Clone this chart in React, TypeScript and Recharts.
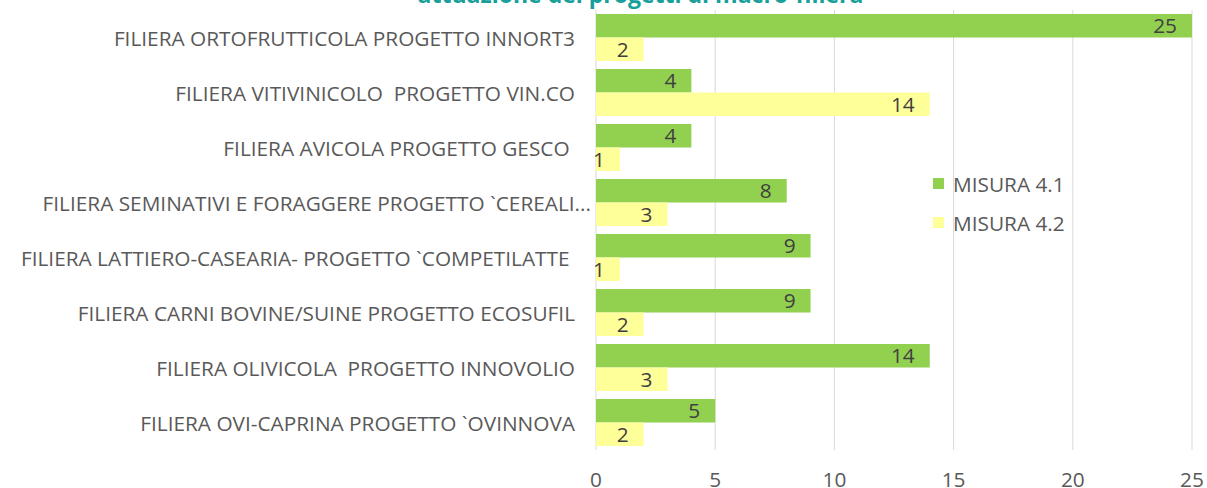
import React from 'react';
import { BarChart, Bar, XAxis, YAxis, CartesianGrid, Legend, LabelList } from 'recharts';

const TITLE = 'attuazione dei progetti di macro-filiera';
const categories = [
  'FILIERA ORTOFRUTTICOLA PROGETTO INNORT3',
  'FILIERA VITIVINICOLO  PROGETTO VIN.CO',
  'FILIERA AVICOLA PROGETTO GESCO ',
  'FILIERA SEMINATIVI E FORAGGERE PROGETTO `CEREALI...',
  'FILIERA LATTIERO-CASEARIA- PROGETTO `COMPETILATTE ',
  'FILIERA CARNI BOVINE/SUINE PROGETTO ECOSUFIL',
  'FILIERA OLIVICOLA  PROGETTO INNOVOLIO',
  'FILIERA OVI-CAPRINA PROGETTO `OVINNOVA',
];
const misura41 = [25, 4, 4, 8, 9, 9, 14, 5];
const misura42 = [2, 14, 1, 3, 1, 2, 3, 2];
const seriesNames = ['MISURA 4.1', 'MISURA 4.2'];
const xTicks = [0, 5, 10, 15, 20, 25];

const GREEN = '#92D050';
const YELLOW = '#FFFF99';
const TEXT = '#595959';
const FONT = '"Open Sans", sans-serif';

const data = categories.map((name, i) => ({ name, m41: misura41[i], m42: misura42[i] }));

const CategoryTick = (props: any) => {
  const { x, y, payload } = props;
  const label: string = payload.value;
  const extra = label.endsWith('...') ? 16 : 0;
  return (
    <text
      x={x - 13 + extra}
      y={y}
      textAnchor="end"
      dominantBaseline="central"
      fill={TEXT}
      fontSize={20.8}
      fontFamily={FONT}
      xmlSpace="preserve"
      style={{ whiteSpace: 'pre' }}
    >
      {label}
    </text>
  );
};

const LegendContent = () => (
  <div style={{ fontFamily: FONT, fontSize: 20.8, color: TEXT }}>
    {[GREEN, YELLOW].map((c, i) => (
      <div key={i} style={{ display: 'flex', alignItems: 'center', height: 39 }}>
        <div style={{ width: 11, height: 11, background: c, marginRight: 9 }} />
        <span style={{ whiteSpace: 'nowrap' }}>{seriesNames[i]}</span>
      </div>
    ))}
  </div>
);

export default function App() {
  return (
    <div style={{ position: 'absolute', left: 0, top: 0, width: 1207, height: 488, background: '#fff', overflow: 'hidden' }}>
      <BarChart
        width={1207}
        height={488}
        data={data}
        layout="vertical"
        margin={{ top: 10, right: 15, bottom: 8, left: 0 }}
        barGap={0}
      >
        <CartesianGrid horizontal={false} stroke="#D9D9D9" strokeWidth={1} />
        <XAxis
          type="number"
          domain={[0, 25]}
          ticks={xTicks}
          height={30}
          axisLine={false}
          tickLine={false}
          tickMargin={16}
          tick={{ fill: TEXT, fontSize: 20.8, fontFamily: FONT }}
          interval={0}
        />
        <YAxis
          type="category"
          dataKey="name"
          width={596}
          axisLine={false}
          tickLine={false}
          tick={<CategoryTick />}
          interval={0}
        />
        <Legend
          layout="horizontal"
          verticalAlign="middle"
          align="center"
          content={<LegendContent />}
          wrapperStyle={{ position: 'absolute', left: 933, top: 164, width: 200 }}
        />
        <Bar dataKey="m41" name={seriesNames[0]} fill={GREEN} barSize={23.5} isAnimationActive={false}>
          <LabelList dataKey="m41" position="insideRight" offset={15} fill="#404040" fontSize={20.8} fontFamily={FONT} />
        </Bar>
        <Bar dataKey="m42" name={seriesNames[1]} fill={YELLOW} barSize={23.5} isAnimationActive={false}>
          <LabelList dataKey="m42" position="insideRight" offset={15} fill="#404040" fontSize={20.8} fontFamily={FONT} />
        </Bar>
      </BarChart>
      <svg width={1207} height={20} style={{ position: 'absolute', left: 0, top: 0, pointerEvents: 'none' }}>
        <text x={640.5} y={3} textAnchor="middle" fill="#17A09A" fontSize={23} fontWeight="bold" fontFamily={FONT}>
          {TITLE}
        </text>
      </svg>
    </div>
  );
}
